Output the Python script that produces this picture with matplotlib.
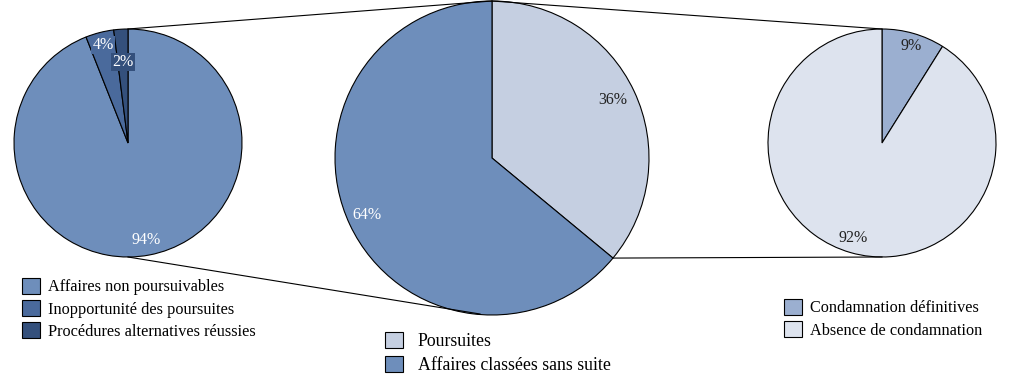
import numpy as np
import matplotlib.pyplot as plt
from matplotlib.patches import Patch

plt.rcParams['font.family'] = ['Liberation Serif', 'DejaVu Serif']

# left pie
left_labels = ['Affaires non poursuivables', 'Inopportunité des poursuites',
               'Procédures alternatives réussies']
left_vals = [94, 4, 2]
left_txt = ['94%', '4%', '2%']
left_colors = ['#6e8ebb', '#4a6a9c', '#34507c']

# middle pie
mid_labels = ['Poursuites', 'Affaires classées sans suite']
mid_vals = [36, 64]
mid_txt = ['36%', '64%']
mid_colors = ['#c5cfe1', '#6e8ebb']

# right pie
right_labels = ['Condamnation définitives', 'Absence de condamnation']
right_vals = [9, 92]
right_txt = ['9%', '92%']
right_colors = ['#9bafd0', '#dde3ee']

W, H = 1012, 379
fig = plt.figure(figsize=(W / 100, H / 100), dpi=100)
ax = fig.add_axes([0, 0, 1, 1])

cl, rl = (128, 236), 114
cm, rm = (492, 221), 157
cr, rr = (882, 236), 114

wl = ax.pie(left_vals, colors=left_colors, startangle=90, counterclock=False,
            center=cl, radius=rl, wedgeprops=dict(edgecolor='black', linewidth=0.8))[0]
wm = ax.pie(mid_vals, colors=mid_colors, startangle=90, counterclock=False,
            center=cm, radius=rm, wedgeprops=dict(edgecolor='black', linewidth=0.8))[0]
wr = ax.pie(right_vals, colors=right_colors, startangle=90, counterclock=False,
            center=cr, radius=rr, wedgeprops=dict(edgecolor='black', linewidth=0.8))[0]

ax.set_xlim(0, W)
ax.set_ylim(0, H)
ax.set_aspect('auto')
ax.axis('off')

# connecting lines
ax.plot([cl[0], cm[0]], [cl[1] + rl, cm[1] + rm], color='black', lw=0.8)
ax.plot([cl[0], cm[0] - 12], [cl[1] - rl, cm[1] - rm + 1], color='black', lw=0.8)
ax.plot([cm[0], cr[0]], [cm[1] + rm, cr[1] + rr], color='black', lw=0.8)
a = np.deg2rad(wm[0].theta1)
ax.plot([cm[0] + rm * np.cos(a), cr[0]], [cm[1] + rm * np.sin(a), cr[1] - rr],
        color='black', lw=0.8)

# percentage labels
fs = 11.5
ax.text(146, H - 240, left_txt[0], color='white', fontsize=fs, ha='center', va='center')
ax.text(103, H - 45, left_txt[1], color='white', fontsize=fs, ha='center', va='center',
        bbox=dict(facecolor=left_colors[1], edgecolor='none', pad=1))
ax.text(123, H - 62, left_txt[2], color='white', fontsize=fs, ha='center', va='center',
        bbox=dict(facecolor=left_colors[2], edgecolor='none', pad=1))
ax.text(613, H - 100, mid_txt[0], color='#222222', fontsize=fs, ha='center', va='center')
ax.text(367, H - 215, mid_txt[1], color='white', fontsize=fs, ha='center', va='center')
ax.text(911, H - 46, right_txt[0], color='#222222', fontsize=fs, ha='center', va='center')
ax.text(853, H - 238, right_txt[1], color='#222222', fontsize=fs, ha='center', va='center')

# legends
def legend(labels, colors, x, y, size, hl, pad=0.5, sp=0.3):
    h = [Patch(facecolor=c, edgecolor='black', linewidth=0.8) for c in colors]
    lg = fig.legend(h, labels, loc='upper left', bbox_to_anchor=(x / W, 1 - y / H),
                    frameon=False, fontsize=size, handlelength=hl, handleheight=hl,
                    handletextpad=pad, labelspacing=sp, borderpad=0, borderaxespad=0)
    return lg

legend(left_labels, left_colors, 22, 278, 11.7, 1.1)
legend(mid_labels, mid_colors, 385, 332, 12.8, 1.0, pad=0.85, sp=0.36)
legend(right_labels, right_colors, 784, 299, 11.7, 1.1)

fig.savefig('out.png', dpi=100)
